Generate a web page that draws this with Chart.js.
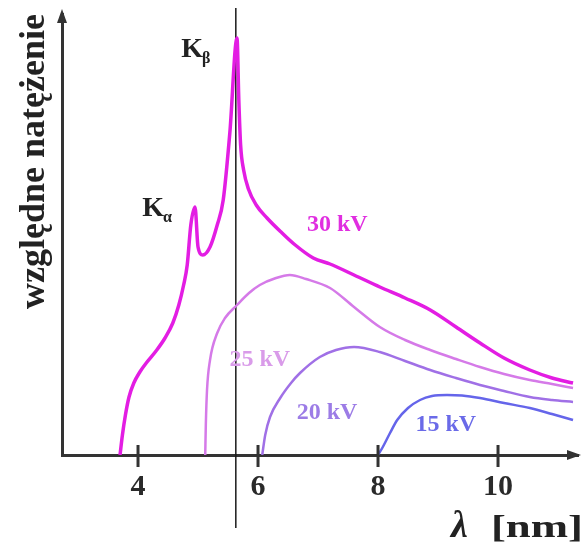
<!DOCTYPE html>
<html><head><meta charset="utf-8">
<script src="https://cdn.jsdelivr.net/npm/chart.js@4.4.1/dist/chart.umd.min.js"></script>
<style>html,body{margin:0;padding:0;background:#fff}</style>
</head><body>
<canvas id="c" width="584" height="552"></canvas>
<script>
// ---- data (x: wavelength in nm, y: relative intensity, arbitrary units) ----
const xTicks = [4, 6, 8, 10];
const kBetaLineX = 5.63;

const kv30X = [3.70,3.74,3.79,3.85,3.93,4.03,4.15,4.30,4.45,4.58,4.68,4.76,4.82,4.88,4.95,5.00,5.08,5.20,5.32,5.42,5.53,5.65,5.68,5.71,5.76,5.84,5.97,6.15,6.40,6.60,6.92,7.20,7.60,8.03,8.45,8.87,9.30,9.70,10.10,10.53,10.90,11.25];
const kv30Y = [0,20,40,58,72,83,93,104,117,132,150,170,190,230,248,208,200,208,230,255,322,417,355,310,285,266,250,237,222,211,197,191,180,168,157,145,128,112,97,85,77,72];

const kv25X = [5.12,5.13,5.15,5.20,5.32,5.45,5.65,5.85,6.03,6.30,6.53,6.80,7.20,7.60,8.03,8.45,8.87,9.30,9.70,10.10,10.53,10.90,11.25];
const kv25Y = [0,30,65,95,122,137,150,162,170,177,180,176,167,148,128,115,105,96,88,81,75,71,67];

const kv20X = [6.07,6.12,6.20,6.37,6.55,6.70,7.03,7.30,7.60,8.03,8.45,8.87,9.30,9.70,10.10,10.53,10.90,11.25];
const kv20Y = [0,20,38,57,72,82,98,105,108,103,94,85,77,70,64,58,55,53];

const kv15X = [8.00,8.08,8.20,8.32,8.50,8.70,8.90,9.15,9.40,9.70,10.10,10.53,10.90,11.25];
const kv15Y = [0,8,22,35,47,55,59,60,59.5,57,52,47,41,35];

const seriesNames = ['30 kV','25 kV','20 kV','15 kV'];
const labelX = [7.32, 6.03, 7.15, 9.13];
const labelY = [230, 95, 42, 30];

const kLabels = [{main:'K', sub:'α', x:4.25, y:246}, {main:'K', sub:'β', x:4.90, y:405}];

const yTitle = 'względne natężenie';
const xTitleSym = 'λ';
const xTitleUnit = '[nm]';

// ---- styles ----
const lineColors = ['#e31de3','#d57ae8','#a070e6','#6565ea'];
const textColors = ['#e02ee0','#d99be9','#9c7ce6','#6a6ae8'];
const lineWidths = [3.5,2.5,2.5,2.5];
const SERIF = '"Liberation Serif","DejaVu Serif",serif';

const pts = (xs, ys) => xs.map((x, i) => ({x, y: ys[i]}));
const seriesData = [pts(kv30X,kv30Y), pts(kv25X,kv25Y), pts(kv20X,kv20Y), pts(kv15X,kv15Y)];

const deco = {
  id: 'deco',
  beforeDatasetsDraw(chart) {
    const {ctx, scales: {x}} = chart;
    const px = x.getPixelForValue(kBetaLineX);
    ctx.save();
    ctx.strokeStyle = '#1a1a1a';
    ctx.lineWidth = 1.5;
    ctx.beginPath(); ctx.moveTo(px, 8); ctx.lineTo(px, 528); ctx.stroke();
    ctx.restore();
  },
  afterDatasetsDraw(chart) {
    const {ctx, chartArea: a, scales: {x, y}} = chart;
    ctx.save();
    ctx.fillStyle = '#333'; ctx.strokeStyle = '#333';
    // arrows
    ctx.beginPath();
    ctx.moveTo(a.left, a.top - 5); ctx.lineTo(a.left - 5, a.top + 9); ctx.lineTo(a.left + 5, a.top + 9); ctx.closePath(); ctx.fill();
    ctx.beginPath();
    ctx.moveTo(a.right + 3, a.bottom); ctx.lineTo(a.right - 11, a.bottom - 5); ctx.lineTo(a.right - 11, a.bottom + 5); ctx.closePath(); ctx.fill();
    // tick marks crossing the axis
    ctx.lineWidth = 3;
    xTicks.forEach(v => {
      const px = x.getPixelForValue(v);
      ctx.beginPath(); ctx.moveTo(px, a.bottom - 10); ctx.lineTo(px, a.bottom + 12); ctx.stroke();
    });
    // series labels
    ctx.textAlign = 'center'; ctx.textBaseline = 'middle';
    ctx.font = 'bold 24px ' + SERIF;
    seriesNames.forEach((t, i) => {
      ctx.fillStyle = textColors[i];
      ctx.fillText(t, x.getPixelForValue(labelX[i]), y.getPixelForValue(labelY[i]));
    });
    // K labels
    ctx.fillStyle = '#222';
    kLabels.forEach(k => {
      const px = x.getPixelForValue(k.x), py = y.getPixelForValue(k.y);
      ctx.font = 'bold 28px ' + SERIF;
      ctx.textAlign = 'center';
      ctx.fillText(k.main, px, py);
      ctx.font = 'bold 16px ' + SERIF;
      ctx.textAlign = 'left';
      ctx.fillText(k.sub, px + 10, py + 9);
    });
    // x title
    ctx.textAlign = 'left'; ctx.textBaseline = 'alphabetic';
    ctx.font = 'italic bold 38px ' + SERIF;
    ctx.fillText(xTitleSym, 451, 537);
    ctx.font = 'bold 32px ' + SERIF;
    ctx.textAlign = 'right';
    ctx.translate(583, 537);
    ctx.scale(1.4, 1);
    ctx.fillText(xTitleUnit, 0, 0);
    ctx.restore();
  }
};

new Chart(document.getElementById('c'), {
  type: 'scatter',
  data: {
    datasets: seriesData.map((d, i) => ({
      label: seriesNames[i],
      data: d,
      showLine: true,
      borderColor: lineColors[i],
      borderWidth: lineWidths[i],
      pointRadius: 0,
      cubicInterpolationMode: 'monotone',
      fill: false
    }))
  },
  options: {
    responsive: false,
    animation: false,
    events: [],
    layout: {padding: {top: 14, right: 6, left: 0, bottom: 0}},
    plugins: {legend: {display: false}, tooltip: {enabled: false}},
    scales: {
      x: {
        type: 'linear', min: 2.733, max: 11.333,
        afterBuildTicks: s => { s.ticks = xTicks.map(v => ({value: v})); },
        afterFit: s => { s.height = 97; },
        grid: {display: false},
        border: {display: true, width: 3, color: '#333'},
        ticks: {color: '#2a2a2a', padding: 6, font: {family: SERIF, size: 30, weight: 'bold'}, callback: v => String(v)}
      },
      y: {
        type: 'linear', min: 0, max: 441,
        afterFit: s => { s.width = 62; },
        grid: {display: false},
        border: {display: true, width: 3, color: '#333'},
        ticks: {display: false},
        title: {display: true, text: yTitle, align: 'end', color: '#222', padding: {top: 13, bottom: 0},
                font: {family: SERIF, size: 36, weight: 'bold'}}
      }
    }
  },
  plugins: [deco]
});
</script>
</body></html>
